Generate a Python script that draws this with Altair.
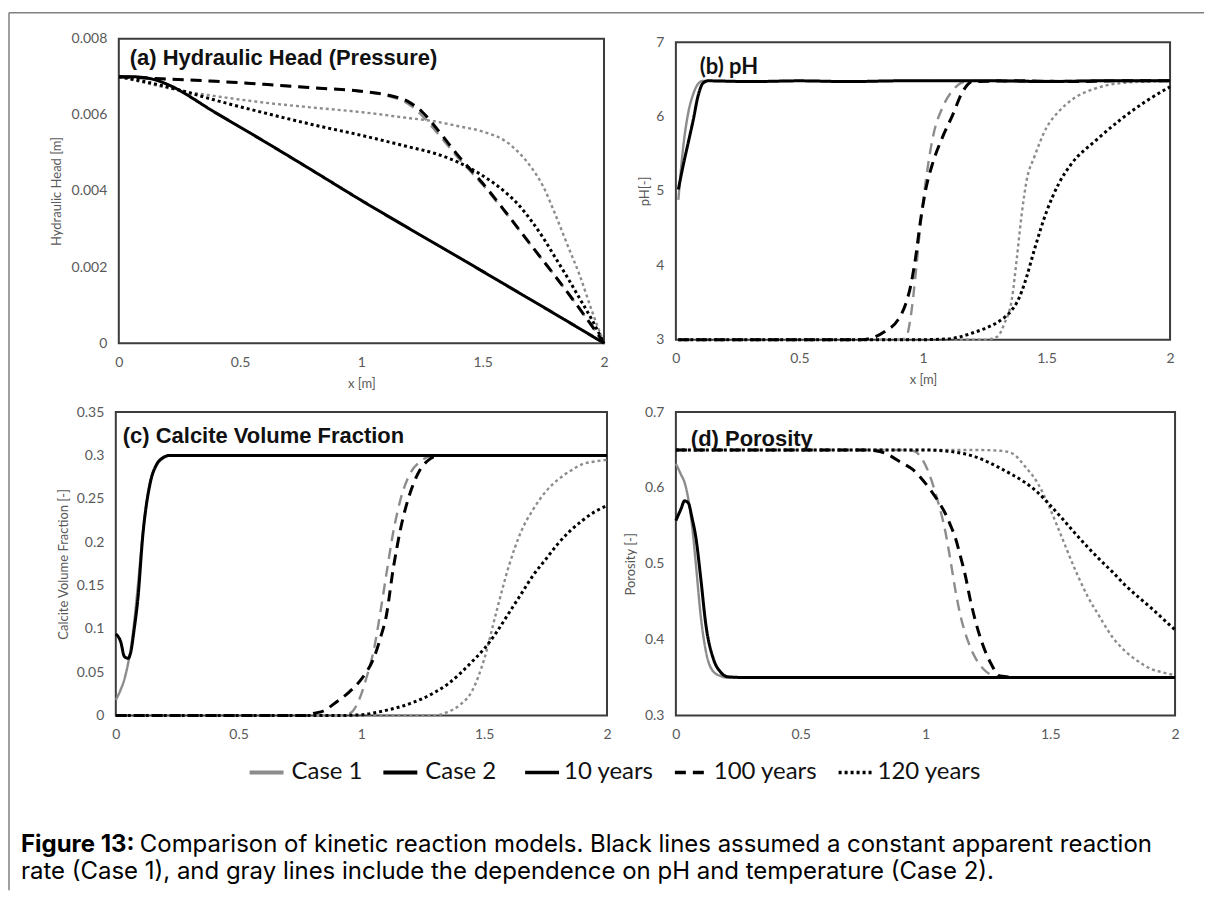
import altair as alt
import pandas as pd

# ---------------- data ----------------
CASES = ["Case 1", "Case 2"]
CASE_COLORS = ["#8c8c8c", "#000000"]
TIMES = ["10 years", "100 years", "120 years"]
TIME_DASHES = [[1, 0], [11, 7], [3, 3]]
X_TICKS = [0, 0.5, 1, 1.5, 2]

# (a) Hydraulic head [m]
a_x_10 = [0, 0.05, 0.1, 0.15, 0.2, 0.4, 0.6, 0.8, 1.0, 1.2, 1.4, 1.6, 1.8, 2.0]
a_c1_10 = [0.00700, 0.00700, 0.00698, 0.00692, 0.00680, 0.00605, 0.00530, 0.00453, 0.00375, 0.00300, 0.00226, 0.00151, 0.00076, 0.0]
a_c2_10 = [0.00700, 0.00700, 0.00698, 0.00692, 0.00680, 0.00605, 0.00530, 0.00453, 0.00375, 0.00300, 0.00226, 0.00151, 0.00076, 0.0]
a_x_100 = [0, 0.2, 0.4, 0.6, 0.8, 1.0, 1.1, 1.2, 1.25, 1.3, 1.35, 1.4, 1.5, 1.6, 1.7, 1.8, 1.9, 2.0]
a_c1_100 = [0.00700, 0.00694, 0.00688, 0.00680, 0.00671, 0.00661, 0.00651, 0.00626, 0.00598, 0.00562, 0.00524, 0.00486, 0.00416, 0.00338, 0.00256, 0.00175, 0.00090, 0.0]
a_c2_100 = [0.00700, 0.00694, 0.00688, 0.00680, 0.00671, 0.00662, 0.00653, 0.00632, 0.00608, 0.00572, 0.00532, 0.00492, 0.00420, 0.00340, 0.00257, 0.00175, 0.00090, 0.0]
a_x_120 = [0, 0.1, 0.25, 0.4, 0.6, 0.8, 1.0, 1.2, 1.3, 1.4, 1.5, 1.6, 1.65, 1.7, 1.75, 1.8, 1.85, 1.9, 1.95, 2.0]
a_c1_120 = [0.00700, 0.00685, 0.00664, 0.00649, 0.00632, 0.00619, 0.00607, 0.00591, 0.00583, 0.00570, 0.00556, 0.00528, 0.00500, 0.00462, 0.00411, 0.00337, 0.00257, 0.00178, 0.00085, 0.0]
a_c2_120 = [0.00700, 0.00688, 0.00665, 0.00638, 0.00605, 0.00574, 0.00546, 0.00515, 0.00499, 0.00475, 0.00440, 0.00393, 0.00362, 0.00322, 0.00276, 0.00224, 0.00172, 0.00117, 0.00062, 0.0]

# (b) pH [-]
b_x_10 = [0.01, 0.03, 0.05, 0.07, 0.09, 0.11, 0.13, 0.3, 0.5, 0.7, 0.9, 1.1, 1.3, 1.5, 1.7, 1.9, 2.0]
b_c1_10 = [4.88, 5.6, 6.05, 6.3, 6.44, 6.48, 6.48, 6.47, 6.48, 6.47, 6.48, 6.48, 6.48, 6.47, 6.48, 6.48, 6.48]
b_c2_10 = [5.02, 5.35, 5.65, 5.95, 6.28, 6.45, 6.48, 6.47, 6.48, 6.47, 6.48, 6.48, 6.48, 6.47, 6.48, 6.48, 6.48]
b_x_100 = [0.01, 0.2, 0.4, 0.6, 0.75, 0.8, 0.85, 0.9, 0.93, 0.95, 0.97, 0.99, 1.01, 1.04, 1.08, 1.12, 1.16, 1.2, 1.4, 1.6, 1.8, 2.0]
b_c1_100 = [3.0, 3.0, 3.0, 3.0, 3.0, 3.0, 3.0, 3.0, 3.02, 3.3, 3.87, 4.55, 5.1, 5.72, 6.13, 6.35, 6.46, 6.48, 6.48, 6.48, 6.48, 6.48]
b_c2_100 = [3.0, 3.0, 3.0, 3.0, 3.0, 3.03, 3.12, 3.27, 3.48, 3.72, 4.1, 4.6, 5.0, 5.38, 5.73, 6.02, 6.33, 6.47, 6.48, 6.47, 6.48, 6.48]
b_x_120 = [0.01, 0.4, 0.8, 1.0, 1.1, 1.2, 1.25, 1.3, 1.33, 1.36, 1.38, 1.4, 1.42, 1.45, 1.5, 1.55, 1.6, 1.7, 1.8, 1.9, 2.0]
b_c1_120 = [3.0, 3.0, 3.0, 3.0, 3.0, 3.0, 3.0, 3.04, 3.22, 3.55, 4.1, 4.7, 5.15, 5.45, 5.85, 6.07, 6.22, 6.38, 6.45, 6.47, 6.48]
b_c2_120 = [3.0, 3.0, 3.0, 3.0, 3.01, 3.09, 3.15, 3.23, 3.3, 3.4, 3.5, 3.65, 3.85, 4.2, 4.72, 5.1, 5.36, 5.68, 5.96, 6.2, 6.4]

# (c) Calcite volume fraction [-]
c_x_10 = [0, 0.02, 0.035, 0.05, 0.06, 0.075, 0.09, 0.11, 0.14, 0.165, 0.19, 0.22, 0.3, 0.6, 1.0, 1.4, 1.8, 2.0]
c_c1_10 = [0.018, 0.03, 0.042, 0.06, 0.075, 0.108, 0.15, 0.21, 0.27, 0.288, 0.296, 0.3, 0.3, 0.3, 0.3, 0.3, 0.3, 0.3]
c_c2_10 = [0.094, 0.085, 0.068, 0.066, 0.072, 0.10, 0.135, 0.208, 0.268, 0.289, 0.297, 0.3, 0.3, 0.3, 0.3, 0.3, 0.3, 0.3]
c_x_100 = [0, 0.4, 0.78, 0.8, 0.85, 0.9, 0.95, 1.0, 1.02, 1.05, 1.08, 1.1, 1.13, 1.16, 1.2, 1.24, 1.28, 1.32, 1.4, 1.6, 1.8, 2.0]
c_c1_100 = [0, 0, 0, 0, 0, 0, 0.002, 0.025, 0.043, 0.075, 0.124, 0.16, 0.212, 0.25, 0.28, 0.293, 0.299, 0.3, 0.3, 0.3, 0.3, 0.3]
c_c2_100 = [0, 0, 0, 0.002, 0.006, 0.016, 0.027, 0.042, 0.05, 0.066, 0.092, 0.113, 0.17, 0.216, 0.258, 0.284, 0.296, 0.3, 0.3, 0.3, 0.3, 0.3]
c_x_120 = [0, 0.5, 0.9, 1.0, 1.1, 1.2, 1.3, 1.35, 1.4, 1.45, 1.5, 1.55, 1.6, 1.65, 1.7, 1.75, 1.8, 1.85, 1.9, 1.95, 2.0]
c_c1_120 = [0, 0, 0, 0, 0, 0, 0, 0.004, 0.012, 0.028, 0.065, 0.12, 0.172, 0.212, 0.238, 0.258, 0.272, 0.282, 0.29, 0.293, 0.295]
c_c2_120 = [0, 0, 0, 0.001, 0.006, 0.014, 0.027, 0.036, 0.048, 0.062, 0.077, 0.096, 0.118, 0.14, 0.162, 0.18, 0.198, 0.213, 0.225, 0.235, 0.242]

# (d) Porosity [-]
d_x_10 = [0, 0.02, 0.035, 0.05, 0.065, 0.08, 0.1, 0.12, 0.15, 0.18, 0.21, 0.3, 0.6, 1.0, 1.4, 1.8, 2.0]
d_c1_10 = [0.632, 0.618, 0.607, 0.585, 0.55, 0.5, 0.43, 0.385, 0.358, 0.352, 0.35, 0.35, 0.35, 0.35, 0.35, 0.35, 0.35]
d_c2_10 = [0.557, 0.572, 0.583, 0.58, 0.56, 0.535, 0.48, 0.42, 0.375, 0.357, 0.351, 0.35, 0.35, 0.35, 0.35, 0.35, 0.35]
d_x_100 = [0, 0.4, 0.75, 0.8, 0.85, 0.9, 0.95, 1.0, 1.05, 1.08, 1.1, 1.12, 1.14, 1.16, 1.18, 1.2, 1.23, 1.26, 1.3, 1.4, 1.6, 2.0]
d_c1_100 = [0.65, 0.65, 0.65, 0.65, 0.65, 0.65, 0.649, 0.63, 0.582, 0.542, 0.505, 0.465, 0.432, 0.408, 0.39, 0.376, 0.362, 0.354, 0.35, 0.35, 0.35, 0.35]
d_c2_100 = [0.65, 0.65, 0.65, 0.649, 0.644, 0.634, 0.624, 0.606, 0.583, 0.566, 0.551, 0.534, 0.51, 0.484, 0.452, 0.425, 0.393, 0.37, 0.352, 0.35, 0.35, 0.35]
d_x_120 = [0, 0.5, 1.0, 1.1, 1.2, 1.3, 1.35, 1.4, 1.45, 1.5, 1.55, 1.6, 1.65, 1.7, 1.75, 1.8, 1.85, 1.9, 1.95, 2.0]
d_c1_120 = [0.65, 0.65, 0.65, 0.65, 0.65, 0.649, 0.645, 0.628, 0.606, 0.572, 0.532, 0.492, 0.457, 0.429, 0.403, 0.385, 0.372, 0.362, 0.357, 0.353]
d_c2_120 = [0.65, 0.65, 0.65, 0.648, 0.641, 0.626, 0.617, 0.607, 0.594, 0.577, 0.559, 0.54, 0.522, 0.505, 0.489, 0.472, 0.457, 0.443, 0.428, 0.413]

CAPTION_BOLD = "Figure 13:"
CAPTION_LINE1 = "Comparison of kinetic reaction models. Black lines assumed a constant apparent reaction"
CAPTION_LINE2 = "rate (Case 1), and gray lines include the dependence on pH and temperature (Case 2)."


def table(groups):
    rows = []
    for case, time, xs, ys in groups:
        for x, y in zip(xs, ys):
            rows.append({"case": case, "time": time, "x": x, "y": y})
    return pd.DataFrame(rows)


def groups_of(x10, c1_10, c2_10, x100, c1_100, c2_100, x120, c1_120, c2_120):
    return [
        ("Case 1", "10 years", x10, c1_10), ("Case 2", "10 years", x10, c2_10),
        ("Case 1", "100 years", x100, c1_100), ("Case 2", "100 years", x100, c2_100),
        ("Case 1", "120 years", x120, c1_120), ("Case 2", "120 years", x120, c2_120),
    ]


df_a = table(groups_of(a_x_10, a_c1_10, a_c2_10, a_x_100, a_c1_100, a_c2_100, a_x_120, a_c1_120, a_c2_120))
df_b = table(groups_of(b_x_10, b_c1_10, b_c2_10, b_x_100, b_c1_100, b_c2_100, b_x_120, b_c1_120, b_c2_120))
df_c = table(groups_of(c_x_10, c_c1_10, c_c2_10, c_x_100, c_c1_100, c_c2_100, c_x_120, c_c1_120, c_c2_120))
df_d = table(groups_of(d_x_10, d_c1_10, d_c2_10, d_x_100, d_c1_100, d_c2_100, d_x_120, d_c1_120, d_c2_120))

# ---------------- style ----------------
TICK_FONT = "Lato"
LEGEND_Y = 716

color_legend = alt.Legend(
    orient="none", legendX=132, legendY=LEGEND_Y, direction="horizontal", title=None,
    symbolType="stroke", symbolSize=1156, symbolStrokeWidth=4,
    labelFont=TICK_FONT, labelFontSize=24, labelColor="#111", labelOffset=6,
    columnPadding=12, padding=0,
)
dash_legend = alt.Legend(
    orient="none", legendX=408, legendY=LEGEND_Y, direction="horizontal", title=None,
    symbolType="stroke", symbolSize=1156, symbolStrokeWidth=3.5, symbolStrokeColor="#000",
    labelFont=TICK_FONT, labelFontSize=24, labelColor="#111", labelOffset=3,
    columnPadding=14, padding=0,
)

one = alt.Data(values=[{"k": 1}])


def panel(df, ydom, yticks, ytitle, xtitle, label, label_font, label_x, label_y,
          w, h, title_pad, extra=()):
    x_enc = alt.X(
        "x:Q",
        scale=alt.Scale(domain=[0, 2], nice=False, zero=False),
        axis=alt.Axis(values=X_TICKS, format="~g", titlePadding=8),
        title=xtitle,
    )
    y_enc = alt.Y(
        "y:Q",
        scale=alt.Scale(domain=ydom, nice=False, zero=False),
        axis=alt.Axis(values=yticks, format="~g", titlePadding=title_pad),
        title=ytitle,
    )
    c_enc = alt.Color("case:N", scale=alt.Scale(domain=CASES, range=CASE_COLORS), legend=color_legend)
    d_enc = alt.StrokeDash("time:N", scale=alt.Scale(domain=TIMES, range=TIME_DASHES), legend=dash_legend)
    base = alt.Chart(df).encode(x=x_enc, y=y_enc, color=c_enc, strokeDash=d_enc)
    gray = base.transform_filter(alt.datum.case == "Case 1").mark_line(
        interpolate="monotone", strokeWidth=2.4)
    black = base.transform_filter(alt.datum.case == "Case 2").mark_line(
        interpolate="monotone", strokeWidth=3)
    txt = alt.Chart(one).mark_text(
        text=label, align="left", baseline="middle", font=label_font,
        fontSize=22, fontWeight="bold", color="#111",
    ).encode(x=alt.value(label_x), y=alt.value(label_y))
    return alt.layer(gray, black, txt, *extra).properties(width=w, height=h)


# caption and outer frame, placed relative to panel (c) (its plot origin is at canvas 115, 411)
cap_font = "Inter"
cap_bold = alt.Chart(one).mark_text(
    text=CAPTION_BOLD, align="left", baseline="middle", font=cap_font, fontSize=24,
    fontWeight="bold", color="#000").encode(x=alt.value(-95), y=alt.value(434))
cap_1 = alt.Chart(one).mark_text(
    text=CAPTION_LINE1, align="left", baseline="middle", font=cap_font, fontSize=24,
    color="#000").encode(x=alt.value(24), y=alt.value(434))
cap_2 = alt.Chart(one).mark_text(
    text=CAPTION_LINE2, align="left", baseline="middle", font=cap_font, fontSize=24,
    color="#000").encode(x=alt.value(-95), y=alt.value(461))
border_left = alt.Chart(one).mark_rule(color="#808080", strokeWidth=1.5).encode(
    x=alt.value(-107), y=alt.value(-400), y2=alt.value(479))
border_top = alt.Chart(one).mark_rule(color="#808080", strokeWidth=1.5).encode(
    x=alt.value(-107), x2=alt.value(1090), y=alt.value(-400))

pa = panel(df_a, [0, 0.008], [0, 0.002, 0.004, 0.006, 0.008], "Hydraulic Head [m]", "x [m]",
           "(a) Hydraulic Head (Pressure)", "Liberation Sans", 11, 19, 486, 305, 8)
pb = panel(df_b, [3, 7], [3, 4, 5, 6, 7], "pH[-]", "x [m]",
           "(b) pH", "Lato", 24, 25, 495, 298, 4)
pc = panel(df_c, [0, 0.35], [0, 0.05, 0.1, 0.15, 0.2, 0.25, 0.3, 0.35], "Calcite Volume Fraction [-]", "",
           "(c) Calcite Volume Fraction", "Liberation Sans", 7, 24, 492, 304, 6,
           extra=(border_left, border_top, cap_bold, cap_1, cap_2))
pd_ = panel(df_d, [0.3, 0.7], [0.3, 0.4, 0.5, 0.6, 0.7], "Porosity [-]", "",
            "(d) Porosity", "Liberation Sans", 15, 27, 500, 304, 7)

chart = alt.concat(
    pa, pb, pc, pd_, columns=2, spacing=69, bounds="flush", center=True, align="each",
).properties(
    padding={"left": 7, "top": 10, "right": 0, "bottom": 4},
    background="white",
).configure_view(
    stroke="#3c3c3c", strokeWidth=2,
).configure_axis(
    grid=False, ticks=False, domain=False, labelFlush=False,
    labelFont=TICK_FONT, labelFontSize=14, labelColor="#595959", labelPadding=12,
    titleFont=TICK_FONT, titleFontSize=13, titleColor="#595959", titleFontWeight="normal",
)

chart.save("out.html", embed_options={"renderer": "svg", "actions": False})
